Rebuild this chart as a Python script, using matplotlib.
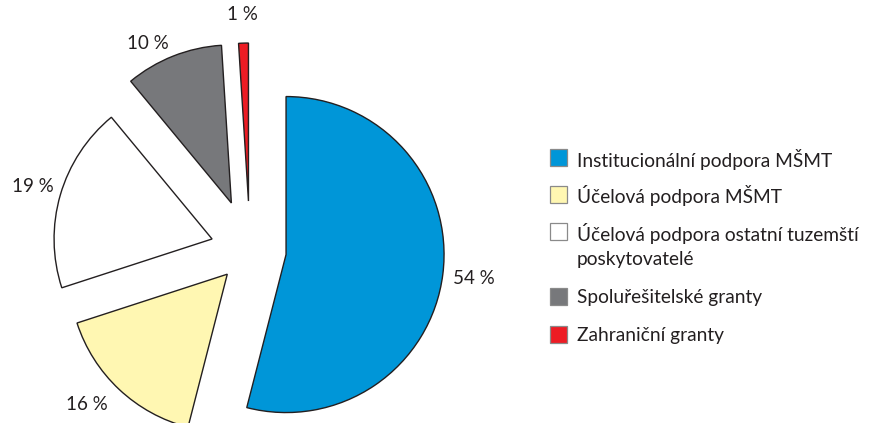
import numpy as np
import matplotlib.pyplot as plt
from matplotlib.patches import Rectangle

plt.rcParams['font.family'] = ['Lato', 'DejaVu Sans']

labels = ["Institucionální podpora MŠMT",
          "Účelová podpora MŠMT",
          "Účelová podpora ostatní tuzemští\nposkytovatelé",
          "Spoluřešitelské granty",
          "Zahraniční granty"]
shares = [54, 16, 19, 10, 1]
colors = ["#0096d8", "#fff7b2", "#ffffff", "#77787b", "#ed1c24"]
explode = [0.23, 0.21, 0.25, 0.32, 0.31]

# where the percentage labels sit, measured from each wedge's tip
lab_dist = [1.20, 1.21, 1.18, 1.14, 1.18]
lab_turn = [0, -4, 0, 6, 0]  # degrees

W, H = 877, 423
R = 158.0          # pie radius in pixels
cx, cy = 250, 250  # pie centre, pixels from top-left
pie_w = 500

fig = plt.figure(figsize=(W / 100, H / 100), dpi=100)
ax = fig.add_axes([0, 0, pie_w / W, 1])

wedges, texts = ax.pie(shares, colors=colors, explode=explode, startangle=90,
                       counterclock=False, labels=[f"{v} %" for v in shares],
                       wedgeprops=dict(edgecolor="#231f20", linewidth=1.0),
                       textprops=dict(ha="center", va="center", fontsize=13.5,
                                      color="#231f20"))
for w, t, d, dt in zip(wedges, texts, lab_dist, lab_turn):
    a = np.radians((w.theta1 + w.theta2) / 2 + dt)
    x0, y0 = w.center
    t.set_position((x0 + d * np.cos(a), y0 + d * np.sin(a)))

ax.set_xlim(-cx / R, (pie_w - cx) / R)
ax.set_ylim(-(H - cy) / R, cy / R)

# legend drawn by hand: square + label per row
rows_y = [158, 194, 232, 296, 334]
line_gap = 26
for lab, col, y in zip(labels, colors, rows_y):
    fig.patches.append(Rectangle((550 / W, 1 - (y + 8.5) / H), 17 / W, 17 / H,
                                 transform=fig.transFigure, facecolor=col,
                                 edgecolor="#8a8a8a", linewidth=0.9))
    for i, line in enumerate(lab.split("\n")):
        fig.text(577 / W, 1 - (y + i * line_gap) / H, line, ha="left",
                 va="center_baseline", fontsize=13.8, color="#231f20")

fig.savefig("out.png", dpi=100)
